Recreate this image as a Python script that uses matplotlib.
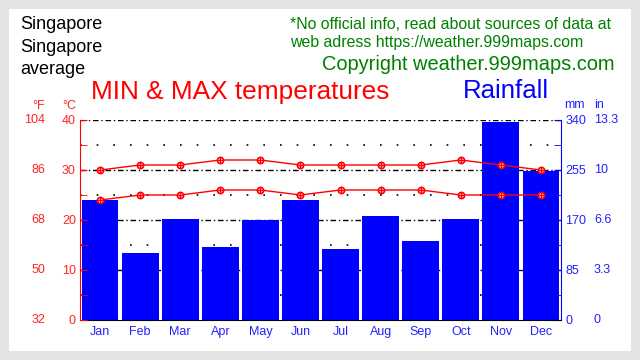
import matplotlib
matplotlib.use("Agg")
import matplotlib.pyplot as plt
import matplotlib.transforms as mtransforms
from matplotlib.patches import Rectangle
from matplotlib.ticker import MultipleLocator

months = ["Jan", "Feb", "Mar", "Apr", "May", "Jun",
          "Jul", "Aug", "Sep", "Oct", "Nov", "Dec"]
max_temp_c = [30, 31, 31, 32, 32, 31, 31, 31, 31, 32, 31, 30]
min_temp_c = [24, 25, 25, 26, 26, 25, 26, 26, 26, 25, 25, 25]
rain_mm = [204, 114, 172, 124, 170, 204, 121, 177, 134, 172, 337, 253]

temp_ticks_c = [0, 10, 20, 30, 40]
temp_labels_f = ["32", "50", "68", "86", "104"]
rain_ticks_mm = [0, 85, 170, 255, 340]
rain_labels_in = ["0", "3.3", "6.6", "10", "13.3"]

plt.rcParams["font.family"] = ["Liberation Sans", "DejaVu Sans"]

W, H = 640, 360
fig = plt.figure(figsize=(6.4, 3.6), dpi=100, facecolor="#e4e4e4")
fig.patches.append(Rectangle((9 / W, 9 / H), 622 / W, 342 / H, transform=fig.transFigure,
                             facecolor="white", edgecolor="none", zorder=-10))


def px(x, y):
    # pixel position (from top-left) -> figure fraction
    return x / W, 1 - y / H


# rainfall axis (bars) + temperature twin (lines)
ax = fig.add_axes([80 / W, 40 / H, 481 / W, 200 / H])
ax_t = ax.twinx()
ax.set_facecolor("none")

x = list(range(len(months)))
ax.bar(x, rain_mm, width=0.92, color="#0000ff", zorder=2)
ax.set_xlim(-0.5, 11.5)
ax.set_ylim(0, 340)

for v in rain_ticks_mm[1:]:
    ax.axhline(v, color="black", lw=1, ls=(0, (4, 2, 1, 2)), zorder=1)
for v in [42.5, 127.5, 212.5, 297.5]:
    ax.axhline(v, color="black", lw=1.2, ls=(0, (1, 9)), zorder=1)

ax.yaxis.tick_right()
ax.set_yticks(rain_ticks_mm)
ax.set_yticklabels([str(v) for v in rain_ticks_mm])
ax.yaxis.set_minor_locator(MultipleLocator(42.5))
ax.tick_params(axis="y", which="both", direction="in", length=5, color="blue",
               labelcolor="#2222ff", labelsize=9, pad=3)
ax.set_xticks(x)
ax.set_xticklabels(months)
ax.tick_params(axis="x", length=0, labelcolor="#2222ff", labelsize=9, pad=4)

ax.spines["top"].set_visible(False)
ax.spines["left"].set_visible(False)
ax.spines["right"].set_color("blue")
ax.spines["bottom"].set_color("black")

trans_r = mtransforms.blended_transform_factory(ax.transAxes, ax.transData)
for v, lab in zip(rain_ticks_mm, rain_labels_in):
    ax.text((594 - 80) / 481, v, lab, transform=trans_r, ha="left", va="center",
            color="#2222ff", fontsize=9)

ax_t.set_ylim(0, 40)
ax_t.yaxis.tick_left()
ax_t.set_yticks(temp_ticks_c)
ax_t.yaxis.set_minor_locator(MultipleLocator(5))
ax_t.tick_params(axis="y", which="both", direction="in", length=5, color="red",
                 labelcolor="#ff2222", labelsize=9, pad=3)
for s in ["top", "right", "bottom"]:
    ax_t.spines[s].set_visible(False)
ax_t.spines["left"].set_color("red")

for temps in [max_temp_c, min_temp_c]:
    ax_t.plot(x, temps, color="red", lw=1, marker="o", ms=4.5, mfc="white",
              mec="red", mew=1.2, zorder=3)
    ax_t.plot(x, temps, ls="none", marker="+", ms=4.5, mec="red", mew=1, zorder=4)

trans_l = mtransforms.blended_transform_factory(ax_t.transAxes, ax_t.transData)
for v, lab in zip(temp_ticks_c, temp_labels_f):
    ax_t.text((45 - 80) / 481, v, lab, transform=trans_l, ha="right", va="center",
              color="#ff2222", fontsize=9)

# header texts
for i, line in enumerate(["Singapore", "Singapore", "average"]):
    fig.text(*px(20, 29 + i * 22.5), line, fontsize=13, color="black", va="baseline")

fig.text(*px(290, 29), "*No official info, read about sources of data at",
         fontsize=11.4, color="#008000", va="baseline")
fig.text(*px(290, 47), "web adress https://weather.999maps.com",
         fontsize=11.4, color="#008000", va="baseline")
fig.text(*px(615, 70), "Copyright weather.999maps.com",
         fontsize=14.4, color="#008000", va="baseline", ha="right")

fig.text(*px(91, 99), "MIN & MAX temperatures", fontsize=18.9, color="red", va="baseline")
fig.text(*px(463, 98), "Rainfall", fontsize=18.5, color="blue", va="baseline")

fig.text(*px(45, 109), "°F", fontsize=9, color="#ff2222", va="baseline", ha="right")
fig.text(*px(76, 109), "°C", fontsize=9, color="#ff2222", va="baseline", ha="right")
fig.text(*px(564, 108), "mm", fontsize=9, color="#2222ff", va="baseline")
fig.text(*px(594, 108), "in", fontsize=9, color="#2222ff", va="baseline")

fig.savefig("out.png", dpi=100, facecolor=fig.get_facecolor())
